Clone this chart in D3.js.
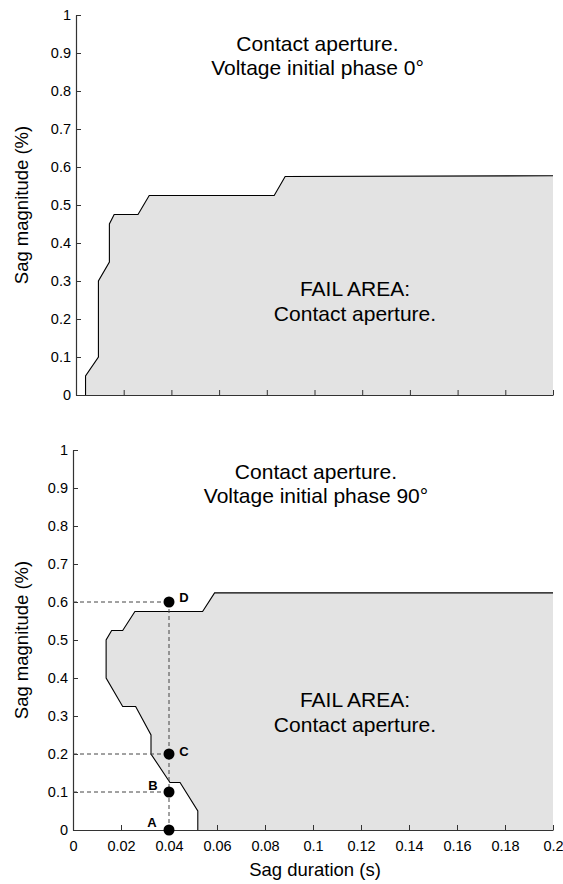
<!DOCTYPE html>
<html>
<head>
<meta charset="utf-8">
<script src="https://cdn.jsdelivr.net/npm/d3@7"></script>
<style>
  html, body { margin: 0; padding: 0; background: #fff; }
  svg { display: block; font-family: Arial, "Liberation Sans", sans-serif; }
</style>
</head>
<body>
<svg id="chart" width="563" height="884"></svg>
<script>
// ---------- data ----------
const xTicks = [0, 0.02, 0.04, 0.06, 0.08, 0.1, 0.12, 0.14, 0.16, 0.18, 0.2];
const yTicks = [0, 0.1, 0.2, 0.3, 0.4, 0.5, 0.6, 0.7, 0.8, 0.9, 1];

// Top panel boundary (phase 0°): duration (s), magnitude
const top_duration  = [0.004, 0.004, 0.0094, 0.0094, 0.014, 0.014, 0.016, 0.026, 0.0307, 0.0831, 0.0877, 0.2];
const top_magnitude = [0,     0.05,  0.1,    0.3,    0.35,  0.45,  0.475, 0.475, 0.525,  0.525,  0.575,  0.577];

// Bottom panel boundary (phase 90°)
const bot_duration  = [0.052, 0.052, 0.0446, 0.0404, 0.0325, 0.0325, 0.0261, 0.0207, 0.0138, 0.0138, 0.0161, 0.0207, 0.0258, 0.054, 0.059, 0.2];
const bot_magnitude = [0,     0.05,  0.125,  0.125,  0.2,    0.25,   0.325,  0.325,  0.4,    0.5,    0.525,  0.525,  0.575,  0.575, 0.624, 0.624];

// Test points
const pointLabels = ["A", "B", "C", "D"];
const pointDuration = [0.04, 0.04, 0.04, 0.04];
const pointMagnitude = [0, 0.1, 0.2, 0.6];

const titleTop = ["Contact aperture.", "Voltage initial phase 0°"];
const titleBot = ["Contact aperture.", "Voltage initial phase 90°"];
const failText = ["FAIL AREA:", "Contact aperture."];
const yLabel = "Sag magnitude (%)";
const xLabel = "Sag duration (s)";

// ---------- drawing ----------
const svg = d3.select("#chart");
const axisColor = "#333";

function panel(cfg) {
  const x = d3.scaleLinear().domain([0, 0.2]).range([cfg.x0, cfg.x1]);
  const y = d3.scaleLinear().domain([0, 1]).range([cfg.y0, cfg.y1]);
  const g = svg.append("g");

  // fill area
  const pts = cfg.dur.map((d, i) => [d, cfg.mag[i]]);
  const poly = pts.concat([[0.2, 0]]);
  g.append("path")
    .attr("d", d3.line().x(d => x(d[0])).y(d => y(d[1]))(poly) + "Z")
    .attr("fill", "#e3e3e3")
    .attr("stroke", "none");
  g.append("path")
    .attr("d", d3.line().x(d => x(d[0])).y(d => y(d[1]))(pts))
    .attr("fill", "none")
    .attr("stroke", "#000")
    .attr("stroke-width", 1.1);

  // axes
  const ya = g.append("g").attr("transform", `translate(${cfg.x0},0)`)
    .call(d3.axisLeft(y).tickValues(yTicks).tickFormat(d3.format("~g"))
      .tickSizeInner(-5).tickSizeOuter(0).tickPadding(5));
  const xa = g.append("g").attr("transform", `translate(0,${cfg.y0})`)
    .call(d3.axisBottom(x).tickValues(xTicks)
      .tickFormat(cfg.xLabels ? d3.format("~g") : () => "")
      .tickSizeInner(-5).tickSizeOuter(0).tickPadding(11));
  [ya, xa].forEach(a => {
    a.selectAll("path").attr("stroke", axisColor).attr("stroke-width", 1.2);
    a.selectAll("line").attr("stroke", axisColor);
    a.selectAll("text").attr("fill", "#000").style("font-size", "14.5px")
      .style("font-family", "Arial, 'Liberation Sans', sans-serif");
  });

  // y label
  g.append("text")
    .attr("transform", `translate(22,${(cfg.y0 + cfg.y1) / 2}) rotate(-90)`)
    .attr("text-anchor", "middle")
    .attr("dy", "0.35em")
    .style("font-size", "18.5px")
    .text(yLabel);

  // title
  const cx = (cfg.x0 + cfg.x1) / 2 + 3;
  cfg.title.forEach((t, i) => {
    g.append("text").attr("x", cx).attr("y", cfg.titleY + i * 24)
      .attr("text-anchor", "middle").style("font-size", "21px").text(t);
  });
  failText.forEach((t, i) => {
    g.append("text").attr("x", cfg.failX).attr("y", cfg.failY + i * 25)
      .attr("text-anchor", "middle").style("font-size", "21px").text(t);
  });
  return { x, y, g };
}

const topP = panel({ x0: 76, x1: 553, y0: 395, y1: 15, dur: top_duration, mag: top_magnitude,
  xLabels: false, title: titleTop, titleY: 51, failX: 355, failY: 296 });
const botP = panel({ x0: 73, x1: 553, y0: 830, y1: 450, dur: bot_duration, mag: bot_magnitude,
  xLabels: true, title: titleBot, titleY: 479, failX: 355, failY: 707 });

// dashed guides and points on bottom panel
const { x, y, g } = botP;
const maxM = d3.max(pointMagnitude);
g.append("line")
  .attr("x1", x(pointDuration[0])).attr("x2", x(pointDuration[0]))
  .attr("y1", y(0)).attr("y2", y(maxM))
  .attr("stroke", "#444").attr("stroke-dasharray", "4,3");
pointMagnitude.forEach((m, i) => {
  if (m > 0) {
    g.append("line")
      .attr("x1", x(0)).attr("x2", x(pointDuration[i]))
      .attr("y1", y(m)).attr("y2", y(m))
      .attr("stroke", "#444").attr("stroke-dasharray", "4,3");
  }
});
const labelOffsets = { A: [-17, -8], B: [-16, -7], C: [15, -3], D: [15, -5] };
pointMagnitude.forEach((m, i) => {
  g.append("circle").attr("cx", x(pointDuration[i])).attr("cy", y(m)).attr("r", 5.5).attr("fill", "#000");
  const lab = pointLabels[i];
  g.append("text")
    .attr("x", x(pointDuration[i]) + labelOffsets[lab][0])
    .attr("y", y(m) + labelOffsets[lab][1])
    .attr("text-anchor", "middle")
    .attr("dy", "0.35em")
    .style("font-size", "13px").style("font-weight", "bold")
    .text(lab);
});

// x axis title
svg.append("text").attr("x", 315).attr("y", 876).attr("text-anchor", "middle")
  .style("font-size", "18.5px").text(xLabel);
</script>
</body>
</html>
